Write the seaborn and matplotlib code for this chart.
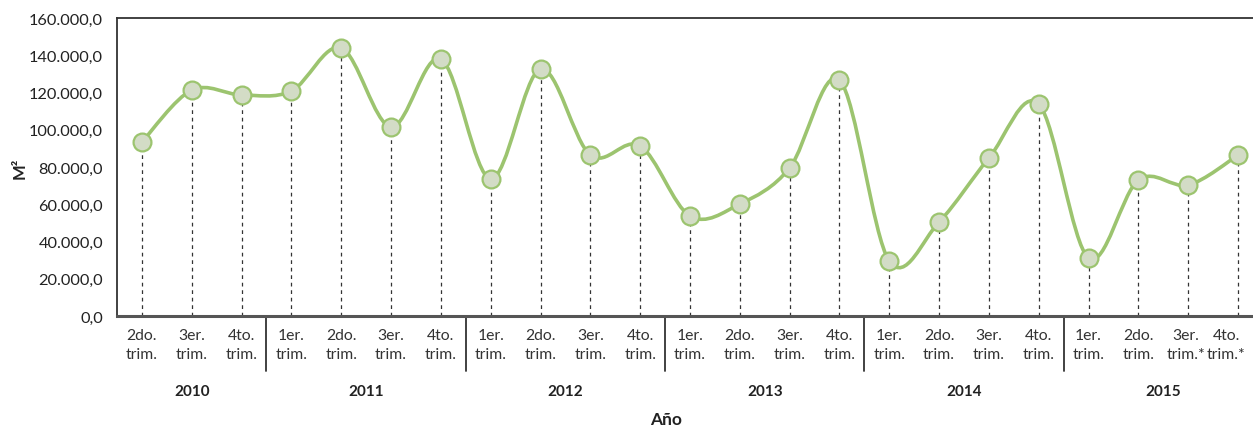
import numpy as np
import pandas as pd
import matplotlib
matplotlib.use("Agg")
import matplotlib.pyplot as plt
from matplotlib.path import Path
from matplotlib.patches import PathPatch
import matplotlib.transforms as mtransforms
from matplotlib.ticker import FuncFormatter
import seaborn as sns

# ---- data ----
years = ["2010", "2011", "2012", "2013", "2014", "2015"]
year_quarters = [
    ["2do.\ntrim.", "3er.\ntrim.", "4to.\ntrim."],
    ["1er.\ntrim.", "2do.\ntrim.", "3er.\ntrim.", "4to.\ntrim."],
    ["1er.\ntrim.", "2do.\ntrim.", "3er.\ntrim.", "4to.\ntrim."],
    ["1er.\ntrim.", "2do.\ntrim.", "3er.\ntrim.", "4to.\ntrim."],
    ["1er.\ntrim.", "2do.\ntrim.", "3er.\ntrim.", "4to.\ntrim."],
    ["1er.\ntrim.", "2do.\ntrim.", "3er.\ntrim.*", "4to.\ntrim.*"],
]
values = [
    93400, 121300, 118700,
    120800, 143900, 101500, 138000,
    73600, 132600, 86400, 91300,
    53700, 60100, 79500, 126700,
    29500, 50500, 84800, 113800,
    31100, 73000, 70300, 86400,
]
y_ticks = [0, 20000, 40000, 60000, 80000, 100000, 120000, 140000, 160000]
y_label = "M²"
x_label = "Año"

labels = [q for grp in year_quarters for q in grp]
df = pd.DataFrame({"x": np.arange(len(values)), "label": labels, "value": values})

# ---- style ----
sns.set_style("white")
plt.rcParams["font.family"] = ["Lato", "DejaVu Sans"]

line_color = "#9cc46f"
marker_face = "#d3dcc6"
text_color = "#222222"

fig = plt.figure(figsize=(12.53, 4.27), dpi=100)
ax = fig.add_axes([117 / 1253, 1 - 317 / 427, 1 - 117 / 1253, (317 - 19) / 427])

# smooth curve (Catmull-Rom style Bezier through data points)
xs = df["x"].to_numpy(dtype=float)
ys = df["value"].to_numpy(dtype=float)
verts = [(xs[0], ys[0])]
codes = [Path.MOVETO]
n = len(xs)
for i in range(n - 1):
    p0 = (xs[max(i - 1, 0)], ys[max(i - 1, 0)])
    p1 = (xs[i], ys[i])
    p2 = (xs[i + 1], ys[i + 1])
    p3 = (xs[min(i + 2, n - 1)], ys[min(i + 2, n - 1)])
    c1 = (p1[0] + (p2[0] - p0[0]) / 6, p1[1] + (p2[1] - p0[1]) / 6)
    c2 = (p2[0] - (p3[0] - p1[0]) / 6, p2[1] - (p3[1] - p1[1]) / 6)
    verts += [c1, c2, p2]
    codes += [Path.CURVE4] * 3
ax.add_patch(PathPatch(Path(verts, codes), facecolor="none", edgecolor=line_color,
                       lw=2.6, zorder=3, capstyle="round", joinstyle="round"))

# drop lines
ax.vlines(df["x"], 0, df["value"], colors="#333333", linestyles=(0, (3, 3)), lw=0.9, zorder=2)

# markers via seaborn
sns.scatterplot(data=df, x="x", y="value", ax=ax, s=165, color=marker_face,
                edgecolor=line_color, linewidth=1.6, zorder=4, legend=False)

ax.set_xlim(-0.5, 22.3)
ax.set_ylim(0, 160000)
ax.set_yticks(y_ticks)
ax.yaxis.set_major_formatter(FuncFormatter(lambda v, p: f"{v:,.1f}".replace(",", "X").replace(".", ",").replace("X", ".")))
ax.tick_params(axis="y", length=0, labelsize=11.8, colors=text_color, pad=10)
ax.set_xticks(df["x"])
ax.set_xticklabels(df["label"], fontsize=11.3, color="#333333", linespacing=1.45)
ax.tick_params(axis="x", length=0, pad=9)

# keep the last (narrow) category label inside the figure, as in the reference
last = ax.get_xticklabels()[-1]
last.set_transform(last.get_transform() + mtransforms.ScaledTranslation(-12 / 100, 0, fig.dpi_scale_trans))
prev = ax.get_xticklabels()[-2]
prev.set_transform(prev.get_transform() + mtransforms.ScaledTranslation(-2 / 100, 0, fig.dpi_scale_trans))

for side in ["left", "top"]:
    ax.spines[side].set_color("#333333")
    ax.spines[side].set_linewidth(1.3)
ax.spines["bottom"].set_color("#555555")
ax.spines["bottom"].set_linewidth(2.2)
ax.spines["right"].set_visible(False)

ax.set_xlabel("")
ax.set_ylabel(y_label, fontsize=12, fontweight="bold", color=text_color)
ax.yaxis.set_label_coords(-0.079, 0.5)

# year groups
trans = mtransforms.blended_transform_factory(ax.transData, ax.transAxes)
start = 0
axes_h_px = 317 - 19
for i, (yr, grp) in enumerate(zip(years, year_quarters)):
    end = start + len(grp) - 1
    center = (start + end) / 2
    ax.text(center, -(392 - 317) / axes_h_px, yr, transform=trans, ha="center", va="center",
            fontsize=11, fontweight="bold", color=text_color)
    if i < len(years) - 1:
        sep = end + 0.5
        ax.plot([sep, sep], [0, -(372 - 317) / axes_h_px], transform=trans,
                color="#333333", lw=1.3, clip_on=False)
    start = end + 1

fig.text(666 / 1253, 1 - 420 / 427, x_label, ha="center", va="center",
         fontsize=12.5, fontweight="bold", color=text_color)

fig.savefig("out.png", dpi=100)
